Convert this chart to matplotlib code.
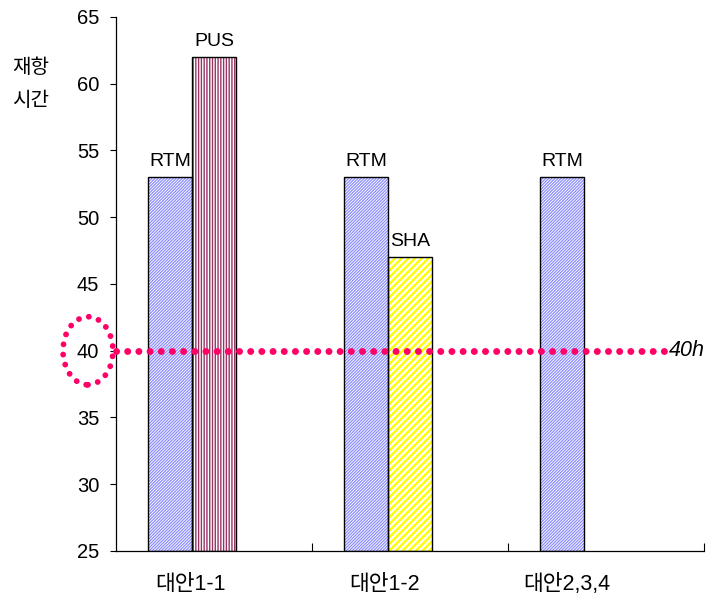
import matplotlib
matplotlib.use("Agg")
import matplotlib.pyplot as plt
from matplotlib.patches import Ellipse

plt.rcParams['font.family'] = ['Liberation Sans', 'Noto Sans CJK KR', 'DejaVu Sans']

# Data
categories = ["대안1-1", "대안1-2", "대안2,3,4"]
rtm_values = [53, 53, 53]
second_names = ["PUS", "SHA", None]
second_values = [62, 47, None]
threshold = 40
threshold_label = "40h"
y_ticks = [25, 30, 35, 40, 45, 50, 55, 60, 65]
y_title = "재항\n시간"

fig = plt.figure(figsize=(7.1, 6.05), dpi=100)
ax = fig.add_axes([116 / 710, 1 - 551 / 605, 588 / 710, 534 / 605])

w = 0.225
styles = {
    "RTM": dict(color="#8c8cff", hatch="/" * 11, lw=0.9),
    "PUS": dict(color="#993366", hatch="|" * 6, lw=1.0),
    "SHA": dict(color="#ffff00", hatch="/" * 5, lw=1.7),
}


def hatched_bar(x, h, name):
    st = styles[name]
    with plt.rc_context({"hatch.linewidth": st["lw"], "hatch.color": st["color"]}):
        ax.bar(x, h - 25, width=w, bottom=25, color="white", edgecolor=st["color"],
               linewidth=0, hatch=st["hatch"], zorder=2)
    ax.bar(x, h - 25, width=w, bottom=25, fill=False, edgecolor="black",
           linewidth=1.0, zorder=3)
    ax.annotate(name, (x, h), xytext=(0, 5), textcoords="offset points",
                ha="center", va="bottom", fontsize=14)


for i, v in enumerate(rtm_values):
    hatched_bar(i - w, v, "RTM")
for i, (n, v) in enumerate(zip(second_names, second_values)):
    if n is not None:
        hatched_bar(i, v, n)

ax.set_xlim(-0.5, 2.5)
ax.set_ylim(25, 65)
ax.set_yticks(y_ticks)
ax.tick_params(axis="y", direction="out", length=4, labelsize=14.5, pad=8)
ax.set_xticks([0.5, 1.5, 2.5])
ax.set_xticklabels([])
ax.tick_params(axis="x", direction="in", length=6)
for s in ["top", "right"]:
    ax.spines[s].set_visible(False)
for s in ["left", "bottom"]:
    ax.spines[s].set_linewidth(0.9)

# category labels
label_offsets = [-0.12, -0.13, -0.2]
for i, (c, off) in enumerate(zip(categories, label_offsets)):
    ax.text(i + off, -0.063, c, transform=ax.get_xaxis_transform(),
            ha="center", va="center", fontsize=15.5)

# y title
fig.text(31 / 710, 1 - 84 / 605, y_title, ha="center", va="center",
         fontsize=14.5, linespacing=1.9)

# threshold line
ax.plot([-0.5, 2.31], [threshold, threshold], color="#ff0066", linewidth=5.0,
        linestyle=(0, (0.01, 1.6)), dash_capstyle="round", zorder=4, clip_on=False)
ax.text(2.32, threshold, threshold_label, ha="left", va="center", fontsize=15.5,
        style="italic", fontfamily="Liberation Sans")

ell = Ellipse((-0.643, threshold), 0.255, 5.1, fill=False, edgecolor="#ff0066",
              linewidth=4.2, linestyle=(0, (0.01, 1.75)), capstyle="round",
              clip_on=False, zorder=5)
ax.add_patch(ell)

fig.savefig("out.png", dpi=100)
